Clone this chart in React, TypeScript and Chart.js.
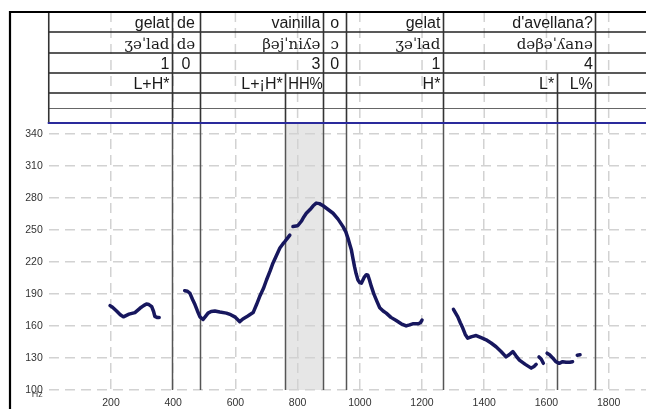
import React, { useEffect, useRef } from 'react';
import { Chart, registerables } from 'chart.js';
Chart.register(...registerables);

// ---- data ----
const pitchTime: number[] = [
  197, 205, 218, 230, 240, 258, 277, 293, 305, 314, 322, 331, 337, 341, 348, 355,
  400,
  437, 446, 454, 462, 470, 478, 486, 496, 504, 512, 522, 534, 550, 571, 585, 598, 607, 614, 624, 636, 646, 657, 668, 678, 690, 700, 711, 721, 732, 743, 752, 759, 767, 775,
  780,
  785, 795, 801, 812, 820, 828, 840, 850, 860, 870, 882, 898, 914, 930, 946, 955, 962, 968, 973, 978, 983, 988, 994, 1000, 1005, 1010, 1015, 1021, 1026, 1031, 1037, 1045, 1055, 1064, 1075, 1085, 1100, 1117, 1133, 1149, 1160, 1170, 1187, 1195, 1200,
  1250,
  1301, 1308, 1315, 1323, 1331, 1339, 1347, 1360, 1374, 1390, 1406, 1422, 1438, 1454, 1470, 1480, 1492, 1502, 1513, 1532, 1551, 1560, 1567,
  1571,
  1576, 1583, 1590,
  1596,
  1602, 1610, 1620, 1630, 1641, 1652, 1663, 1675, 1684,
  1692,
  1699, 1708,
];
const pitchHz: (number | null)[] = [
  179, 177.5, 174, 170.5, 168.5, 171, 172.5, 176.5, 179, 180.5, 180, 178, 173.5, 169, 168, 168,
  null,
  193, 192.5, 190.5, 185, 180, 174, 168.5, 166, 169, 172, 173.5, 174, 173, 172, 170.5, 168.5, 166, 164, 166.5, 168.5, 170.5, 172.5, 180, 187.5, 195, 203, 211, 219, 226, 233, 236.5, 239, 242, 245,
  null,
  253, 253.5, 254, 258, 262, 265.5, 269, 272.5, 275, 274.5, 272.5, 269, 265.5, 260, 253, 248, 242, 236, 231, 223, 215.5, 209, 203, 200.5, 200, 203, 206, 208, 207.5, 203, 197, 190, 183, 177, 174, 172, 168, 165, 162, 160, 161, 162, 162, 163, 165.5,
  null,
  175.5, 172, 168.5, 163, 158, 152, 148.5, 150, 151, 149, 147, 144, 140.5, 136, 131, 133, 136, 132, 128, 124, 120.5, 122, 124,
  null,
  131, 129, 125,
  null,
  134.5, 133, 130, 126.5, 125, 126.5, 126, 126, 126.5,
  null,
  132.5, 133,
];

const wordEdges = [0, 396, 486, 881, 957, 1267, 1757];
const words = ['gelat', 'de', 'vainilla', 'o', 'gelat', "d'avellana?"];
const ipaWords = ['ʒəˈlad', 'də', 'βəjˈniʎə', 'ɔ', 'ʒəˈlad', 'dəβəˈʎanə'];
const stressCounts = ['1', '0', '3', '0', '1', '4'];
const toneEdges = [0, 396, 486, 760, 881, 957, 1267, 1633, 1757];
const tones = ['L+H*', '', 'L+¡H*', 'HH%', '', 'H*', 'L*', 'L%'];
const shadedSpan = [760, 881];
const xTickValues = [200, 400, 600, 800, 1000, 1200, 1400, 1600, 1800];
const yTickValues = [100, 130, 160, 190, 220, 250, 280, 310, 340];

// ---- layout (pixels) ----
const ROWS = [12, 32, 53, 73, 93, 123];
const WAVE_Y = 108;
const SANS = '"Liberation Sans", Arial, sans-serif';
const SERIF = '"DejaVu Serif", serif';

const tierPlugin = {
  id: 'tiers',
  beforeDraw(chart: any) {
    const { ctx, chartArea, scales } = chart;
    const x = scales.x;
    ctx.save();
    ctx.fillStyle = '#ffffff';
    ctx.fillRect(0, 0, chart.width, chart.height);
    const a = x.getPixelForValue(shadedSpan[0]);
    const b = x.getPixelForValue(shadedSpan[1]);
    ctx.fillStyle = '#e6e6e6';
    ctx.fillRect(a, chartArea.top, b - a, chartArea.bottom - chartArea.top);
    ctx.restore();
  },
  beforeDatasetsDraw(chart: any) {
    const { ctx, chartArea, scales } = chart;
    const x = scales.x;
    ctx.save();
    ctx.strokeStyle = '#555555';
    ctx.lineWidth = 1.5;
    toneEdges.slice(1).forEach((t) => {
      const px = Math.round(x.getPixelForValue(t)) + 0.5;
      ctx.beginPath();
      ctx.moveTo(px, chartArea.top);
      ctx.lineTo(px, chartArea.bottom);
      ctx.stroke();
    });
    ctx.restore();
  },
  afterDraw(chart: any) {
    const { ctx, chartArea, scales } = chart;
    const x = scales.x;
    const y = scales.y;
    const L = chartArea.left;
    const R = chart.width;
    ctx.save();
    // dashed vertical grid inside tiers
    ctx.strokeStyle = '#d2d2d2';
    ctx.lineWidth = 1.5;
    ctx.setLineDash([10, 6]);
    xTickValues.forEach((t) => {
      const px = x.getPixelForValue(t);
      ctx.beginPath();
      ctx.moveTo(px, ROWS[0]);
      ctx.lineTo(px, ROWS[5]);
      ctx.stroke();
    });
    ctx.setLineDash([]);

    // waveform baseline
    ctx.strokeStyle = '#666666';
    ctx.lineWidth = 1;
    ctx.beginPath();
    ctx.moveTo(L, WAVE_Y + 0.5);
    ctx.lineTo(R, WAVE_Y + 0.5);
    ctx.stroke();

    // row lines
    ctx.strokeStyle = '#222222';
    ctx.lineWidth = 1.6;
    ROWS.slice(1, 5).forEach((ry) => {
      ctx.beginPath();
      ctx.moveTo(L, ry);
      ctx.lineTo(R, ry);
      ctx.stroke();
    });

    // vertical boundaries in tiers
    const vline = (t: number, y0: number, y1: number) => {
      const px = Math.round(x.getPixelForValue(t)) + 0.5;
      ctx.beginPath();
      ctx.moveTo(px, y0);
      ctx.lineTo(px, y1);
      ctx.stroke();
    };
    ctx.strokeStyle = '#333333';
    ctx.lineWidth = 1.6;
    wordEdges.slice(1).forEach((t) => vline(t, ROWS[0], ROWS[3]));
    toneEdges.slice(1).forEach((t) => vline(t, ROWS[3], ROWS[5]));
    ctx.beginPath();
    ctx.moveTo(L, ROWS[0]);
    ctx.lineTo(L, ROWS[5]);
    ctx.stroke();

    // texts
    ctx.fillStyle = '#1a1a1a';
    ctx.textBaseline = 'alphabetic';
    const drawTier = (edges: number[], labels: string[], row: number, font: string) => {
      ctx.font = font;
      labels.forEach((lab, i) => {
        if (!lab) return;
        const a = x.getPixelForValue(edges[i]);
        const b = x.getPixelForValue(edges[i + 1]);
        const base = ROWS[row + 1] - 4.5;
        const w = ctx.measureText(lab).width;
        if (b - a < 30) {
          ctx.textAlign = 'center';
          ctx.fillText(lab, (a + b) / 2, base);
        } else if (w + 5 > b - a) {
          ctx.textAlign = 'right';
          ctx.fillText(lab, b, base, b - a - 3);
        } else {
          ctx.textAlign = 'right';
          ctx.fillText(lab, b - 2.5, base);
        }
      });
    };
    drawTier(wordEdges, words, 0, '16px ' + SANS);
    drawTier(wordEdges, ipaWords, 1, '15px ' + SERIF);
    drawTier(wordEdges, stressCounts, 2, '16px ' + SANS);
    drawTier(toneEdges, tones, 3, '16px ' + SANS);

    // blue top line of the plot
    ctx.strokeStyle = '#2a2a9c';
    ctx.lineWidth = 2;
    ctx.beginPath();
    ctx.moveTo(L - 1, ROWS[5]);
    ctx.lineTo(R, ROWS[5]);
    ctx.stroke();

    // outer frame
    ctx.strokeStyle = '#000000';
    ctx.lineWidth = 2.2;
    ctx.beginPath();
    ctx.moveTo(R, ROWS[0]);
    ctx.lineTo(10, ROWS[0]);
    ctx.lineTo(10, chart.height);
    ctx.stroke();

    // Hz unit
    ctx.fillStyle = '#444444';
    ctx.font = '9px ' + SANS;
    ctx.textAlign = 'right';
    ctx.textBaseline = 'middle';
    ctx.fillText('Hz', L - 6, y.getPixelForValue(100) + 5);
    ctx.restore();
  },
};

export default function App() {
  const ref = useRef<HTMLCanvasElement>(null);
  useEffect(() => {
    const canvas = ref.current;
    if (!canvas) return;
    const points = pitchTime.map((t, i) => ({ x: t, y: pitchHz[i] }));
    const chart = new Chart(canvas, {
      type: 'line',
      data: {
        datasets: [
          {
            data: points as any,
            borderColor: '#17175e',
            borderWidth: 3.5,
            pointRadius: 0,
            spanGaps: false,
            tension: 0,
            borderCapStyle: 'round',
            borderJoinStyle: 'round',
          },
        ],
      },
      options: {
        responsive: false,
        animation: false,
        devicePixelRatio: 1,
        layout: { padding: { top: 123, left: 0, right: 0, bottom: 0 } },
        plugins: { legend: { display: false }, tooltip: { enabled: false } },
        scales: {
          x: {
            type: 'linear',
            min: 0,
            max: 1920,
            afterBuildTicks: (s: any) => {
              s.ticks = xTickValues.map((v) => ({ value: v }));
            },
            afterFit: (s: any) => {
              s.height = 19;
            },
            grid: { color: '#d2d2d2', lineWidth: 1.5, drawTicks: false },
            border: { display: false, dash: [10, 6] },
            ticks: {
              padding: 7,
              color: '#333333',
              font: { family: SANS, size: 10.5 },
              callback: (v: any) => String(v),
            },
          },
          y: {
            min: 100,
            max: 350,
            afterBuildTicks: (s: any) => {
              s.ticks = yTickValues.map((v) => ({ value: v }));
            },
            afterFit: (s: any) => {
              s.width = 48.75;
            },
            grid: { color: '#d2d2d2', lineWidth: 1.5, drawTicks: false },
            border: { display: false, dash: [10, 6] },
            ticks: {
              padding: 6,
              color: '#333333',
              font: { family: SANS, size: 10.5 },
              callback: (v: any) => String(v),
            },
          },
        },
      },
      plugins: [tierPlugin],
    });
    return () => chart.destroy();
  }, []);
  return (
    <div style={{ position: 'fixed', left: 0, top: 0, width: 646, height: 409, background: '#fff' }}>
      <canvas ref={ref} width={646} height={409} style={{ display: 'block' }} />
    </div>
  );
}
